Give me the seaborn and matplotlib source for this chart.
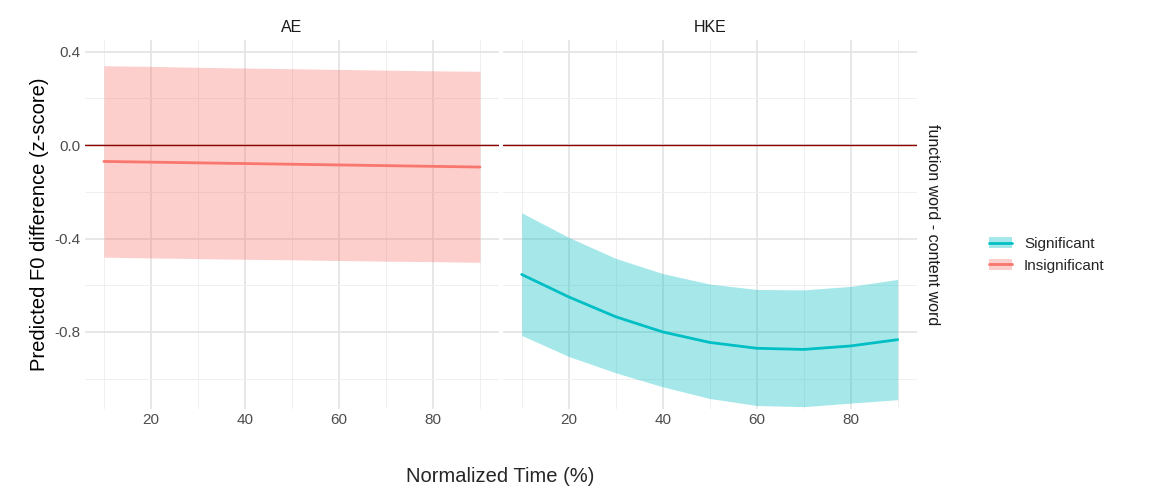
import matplotlib.pyplot as plt
import seaborn as sns
import numpy as np
import pandas as pd
from matplotlib.ticker import MultipleLocator
from matplotlib.lines import Line2D
from matplotlib.patches import Patch

time = [10, 20, 30, 40, 50, 60, 70, 80, 90]
ae_fit = [-0.070, -0.073, -0.076, -0.079, -0.082, -0.085, -0.088, -0.091, -0.094]
ae_upper = [0.340, 0.337, 0.333, 0.330, 0.327, 0.324, 0.321, 0.318, 0.316]
ae_lower = [-0.480, -0.483, -0.486, -0.489, -0.491, -0.494, -0.497, -0.499, -0.502]
hke_fit = [-0.554, -0.650, -0.735, -0.800, -0.845, -0.870, -0.875, -0.860, -0.833]
hke_upper = [-0.290, -0.395, -0.485, -0.550, -0.595, -0.618, -0.620, -0.605, -0.575]
hke_lower = [-0.815, -0.905, -0.975, -1.035, -1.085, -1.115, -1.120, -1.105, -1.090]

TEAL = "#00BFC4"
RED = "#F8766D"

df = pd.DataFrame({
    "time": time * 2,
    "fit": ae_fit + hke_fit,
    "upper": ae_upper + hke_upper,
    "lower": ae_lower + hke_lower,
    "group": ["AE"] * 9 + ["HKE"] * 9,
})
colors = {"AE": RED, "HKE": TEAL}

sns.set_style("white")
plt.rcParams['font.family'] = ['Liberation Sans', 'DejaVu Sans']

fig, axes = plt.subplots(1, 2, figsize=(11.5, 5), dpi=100, sharey=True)
fig.subplots_adjust(left=0.074, right=0.797, top=0.92, bottom=0.182, wspace=0.01)

for ax, g in zip(axes, ["AE", "HKE"]):
    d = df[df["group"] == g]
    ax.fill_between(d["time"], d["lower"], d["upper"], color=colors[g], alpha=0.35, lw=0)
    sns.lineplot(data=d, x="time", y="fit", color=colors[g], lw=2, ax=ax)
    ax.axhline(0, color="#8B0000", lw=1)
    ax.set_xlim(6, 94)
    ax.set_ylim(-1.13, 0.45)
    ax.xaxis.set_major_locator(MultipleLocator(20))
    ax.xaxis.set_minor_locator(MultipleLocator(10))
    ax.yaxis.set_major_locator(MultipleLocator(0.4))
    ax.yaxis.set_minor_locator(MultipleLocator(0.2))
    ax.grid(which="major", color="#E5E5E5", lw=1.3)
    ax.grid(which="minor", color="#EFEFEF", lw=0.7)
    ax.set_axisbelow(True)
    for s in ax.spines.values():
        s.set_visible(False)
    ax.tick_params(which="both", length=0, labelsize=11, colors="#4D4D4D", pad=3)
    ax.set_title(g, fontsize=11.5, color="#1A1A1A", pad=6)
    ax.set_xlabel("")
    ax.set_ylabel("")

axes[0].set_yticklabels([f"{v:.1f}" if abs(v) > 1e-9 else "0.0" for v in axes[0].get_yticks()])
axes[0].set_ylabel("Predicted F0 difference (z-score)", fontsize=14.5, color="black")
fig.text(0.435, 0.035, "Normalized Time (%)", ha="center", fontsize=14.5)
axes[1].text(1.02, 0.5, "function word - content word", transform=axes[1].transAxes,
             rotation=-90, va="center", ha="left", fontsize=11.5, color="#1A1A1A")

handles = [
    (Patch(facecolor=TEAL, alpha=0.35, lw=0), Line2D([], [], color=TEAL, lw=2)),
    (Patch(facecolor=RED, alpha=0.35, lw=0), Line2D([], [], color=RED, lw=2)),
]
fig.legend(handles, ["Significant", "Insignificant"], loc="center left",
           bbox_to_anchor=(0.848, 0.49), frameon=False, fontsize=11, handlelength=1.5)

plt.savefig("out.png", dpi=100)
